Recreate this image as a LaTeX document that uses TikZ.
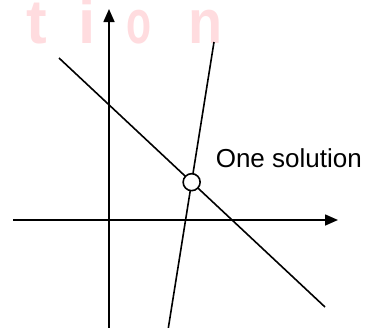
\documentclass[tikz,border=0pt]{standalone}
\usepackage{fontspec}
\setmainfont{Liberation Sans}
\usetikzlibrary{arrows.meta}
\definecolor{wmpink}{RGB}{255,220,223}

\begin{document}
\begin{tikzpicture}[x=1pt,y=-1pt,line width=1.6pt,
  axis/.style={-{Triangle[length=13pt,width=11pt]}},
  wmark/.style={text=wmpink,font=\fontsize{62}{62}\selectfont\bfseries,anchor=base,inner sep=0pt}]
\clip (0,0) rectangle (369,327);
% faint letters behind the axes
\foreach \ch/\xx/\sx [count=\k] in {t/37/1,i/87/1,o/139/0.66,n/206/0.9} {
  \node[wmark,xscale=\sx] (w\k) at (\xx,43) {\ch};
}
\coordinate (yb) at (109,330);
\coordinate (yt) at (109,9);
\coordinate (xl) at (13,220);
\coordinate (xr) at (338,220);
\coordinate (sa) at (214,42);
\coordinate (sb) at (168,330);
\coordinate (da) at (59,58);
\coordinate (db) at (325,307);
\draw[axis] (yb) -- (yt);
\draw[axis] (xl) -- (xr);
\draw (sa) -- (sb);
\draw (da) -- (db);
\node[circle,draw,fill=white,minimum size=17pt,inner sep=0pt] (sol) at (intersection of sa--sb and da--db) {};
\node[anchor=base west,inner sep=0pt,font=\fontsize{26}{30}\selectfont] (lbl) at (215,167) {One solution};
\end{tikzpicture}
\end{document}
